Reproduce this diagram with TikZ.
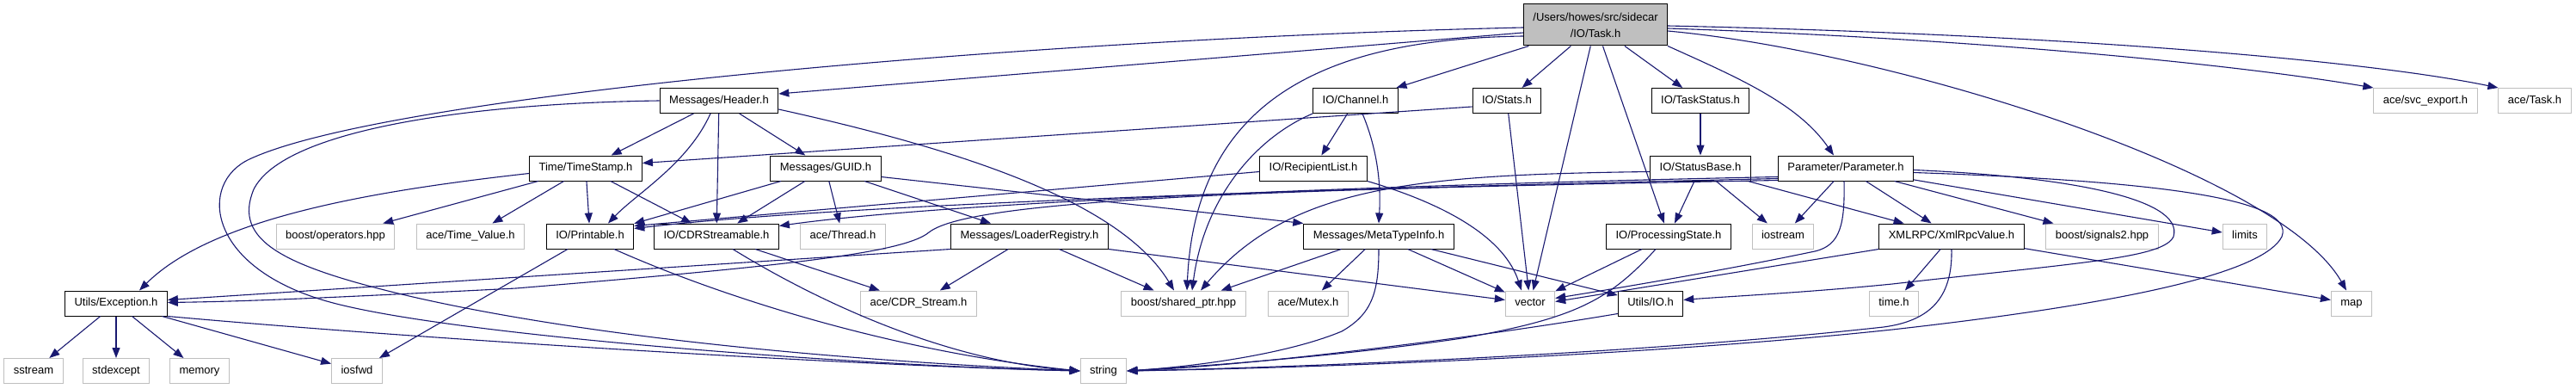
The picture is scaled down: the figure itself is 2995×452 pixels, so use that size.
\documentclass[tikz,border=0pt]{standalone}
\usepackage{fontspec}
\setmainfont{Liberation Sans}
\usepackage{tikz}
\usetikzlibrary{arrows.meta}
\definecolor{edgeblue}{HTML}{191970}
\definecolor{extgray}{HTML}{BFBFBF}

\begin{document}
\begin{tikzpicture}[x=1pt,y=-1pt,
    base/.style={line width=1pt,inner xsep=11pt,inner ysep=2pt,minimum height=29pt,text height=9.4pt,text depth=2.7pt,font=\fontsize{13pt}{19pt}\selectfont},
    inc/.style={base,draw=black},
    ext/.style={base,draw=extgray},
    root/.style={draw=black,fill=extgray,line width=1pt,inner xsep=11pt,minimum height=48pt,align=center,font=\fontsize{13pt}{19pt}\selectfont},
    dep/.style={draw=edgeblue,line width=1.1pt,-{Triangle[length=12pt,width=9pt]}}]
  \path[fill=white] (0,0) rectangle (2995,452);
  \node[root] (task) at (1855,29) {/Users/howes/src/sidecar\\/IO/Task.h};
  \node[inc] (header) at (836,117) {Messages/Header.h};
  \node[inc] (channel) at (1576,117) {IO/Channel.h};
  \node[inc] (stats) at (1752,117) {IO/Stats.h};
  \node[inc] (taskstatus) at (1977,117) {IO/TaskStatus.h};
  \node[ext] (svcexport) at (2820,117) {ace/svc\_export.h};
  \node[ext] (acetask) at (2947,117) {ace/Task.h};
  \node[inc] (timestamp) at (681,195.5) {Time/TimeStamp.h};
  \node[inc] (guid) at (960,195.5) {Messages/GUID.h};
  \node[inc] (recipients) at (1527,195.5) {IO/RecipientList.h};
  \node[inc] (statusbase) at (1977,195.5) {IO/StatusBase.h};
  \node[inc] (parameter) at (2146,195.5) {Parameter/Parameter.h};
  \node[ext] (operators) at (390,274.5) {boost/operators.hpp};
  \node[ext] (timevalue) at (547,274.5) {ace/Time\_Value.h};
  \node[inc] (printable) at (686,274.5) {IO/Printable.h};
  \node[inc] (cdrstream) at (833,274.5) {IO/CDRStreamable.h};
  \node[ext] (thread) at (980,274.5) {ace/Thread.h};
  \node[inc] (loader) at (1197,274.5) {Messages/LoaderRegistry.h};
  \node[inc] (metatype) at (1603,274.5) {Messages/MetaTypeInfo.h};
  \node[inc] (procstate) at (1940,274.5) {IO/ProcessingState.h};
  \node[ext] (iostream) at (2073,274.5) {iostream};
  \node[inc] (xmlrpc) at (2269,274.5) {XMLRPC/XmlRpcValue.h};
  \node[ext] (signals) at (2444,274.5) {boost/signals2.hpp};
  \node[ext] (limits) at (2610,274.5) {limits};
  \node[inc] (exception) at (135,352.5) {Utils/Exception.h};
  \node[ext] (cdr) at (1068,352.5) {ace/CDR\_Stream.h};
  \node[ext] (sharedptr) at (1376,352.5) {boost/shared\_ptr.hpp};
  \node[ext] (mutex) at (1521,352.5) {ace/Mutex.h};
  \node[ext] (vector) at (1779,352.5) {vector};
  \node[inc] (utilsio) at (1919,352.5) {Utils/IO.h};
  \node[ext] (timeh) at (2202,352.5) {time.h};
  \node[ext] (map) at (2734,352.5) {map};
  \node[ext] (sstream) at (39,431) {sstream};
  \node[ext] (stdexcept) at (135,431) {stdexcept};
  \node[ext] (memory) at (232,431) {memory};
  \node[ext] (iosfwd) at (415,431) {iosfwd};
  \node[ext] (string) at (1283,431) {string};

  \draw[dep] ([shift={(0,9)}]task.west) -- ([shift={(0,-8)}]header.east);
  \draw[dep] ([shift={(0,3)}]task.west) .. controls (1200,45) and (450,110) .. (290,185) .. controls (230,213) and (240,310) .. (380,350) .. controls (520,390) and (1000,425) .. (string.west);
  \draw[dep] ([shift={(0,13)}]task.west) .. controls (1550,45) and (1390,110) .. ([shift={(4,0)}]sharedptr.north);
  \draw[dep] (task) -- (channel);
  \draw[dep] (task) -- (stats);
  \draw[dep] (task) -- (vector);
  \draw[dep] (task) -- (procstate);
  \draw[dep] (task) -- (taskstatus);
  \draw[dep] (task.south east) .. controls (2020,90) and (2090,120) .. ([shift={(-14,0)}]parameter.north);
  \draw[dep] ([shift={(0,7)}]task.east) .. controls (2200,60) and (2650,200) .. ([shift={(-6,0)}]map.north);
  \draw[dep] ([shift={(0,4)}]task.east) .. controls (2300,45) and (2600,75) .. (svcexport.north west);
  \draw[dep] ([shift={(0,1)}]task.east) .. controls (2400,40) and (2750,70) .. (acetask.north west);

  \draw[dep] (header.west) .. controls (550,120) and (330,150) .. (295,220) .. controls (270,280) and (330,310) .. (480,345) .. controls (700,395) and (1000,420) .. (string.west);
  \draw[dep] (header) -- (timestamp);
  \draw[dep] ([shift={(-10,0)}]header.south) .. controls (800,190) and (740,225) .. ([shift={(21,0)}]printable.north);
  \draw[dep] (header) -- (cdrstream);
  \draw[dep] (header) -- (guid);
  \draw[dep] ([shift={(0,10)}]header.east) .. controls (1100,170) and (1300,230) .. ([shift={(-11,0)}]sharedptr.north);

  \draw[dep] ([shift={(0,6)}]timestamp.west) .. controls (450,220) and (250,250) .. ([shift={(27,0)}]exception.north);
  \draw[dep] (timestamp) -- (operators);
  \draw[dep] (timestamp) -- (timevalue);
  \draw[dep] (timestamp) -- (printable);
  \draw[dep] (timestamp) -- (cdrstream);

  \draw[dep] ([shift={(0,7)}]stats.west) -- ([shift={(0,-6)}]timestamp.east);
  \draw[dep] (stats) -- (vector);
  \draw[dep] (taskstatus) -- (statusbase);

  \draw[dep] (guid) -- (printable);
  \draw[dep] (guid) -- (cdrstream);
  \draw[dep] (guid) -- (thread);
  \draw[dep] (guid) -- (loader);
  \draw[dep] ([shift={(0,10)}]guid.east) -- (metatype.north west);

  \draw[dep] (printable) -- (iosfwd);
  \draw[dep] ([shift={(28,0)}]printable.south) .. controls (850,350) and (1050,410) .. (string.west);
  \draw[dep] (cdrstream) -- (cdr);
  \draw[dep] ([shift={(19,0)}]cdrstream.south) .. controls (950,350) and (1100,420) .. (string.west);

  \draw[dep] (loader.south west) -- ([shift={(0,-4)}]exception.east);
  \draw[dep] (loader) -- (cdr);
  \draw[dep] (loader) -- (sharedptr);
  \draw[dep] (loader.south east) -- ([shift={(0,-4)}]vector.west);

  \draw[dep] (channel) -- (recipients);
  \draw[dep] ([shift={(8,0)}]channel.south) .. controls (1600,170) and (1606,210) .. (metatype.north);
  \draw[dep] (channel.south west) .. controls (1460,160) and (1400,230) .. ([shift={(10,0)}]sharedptr.north);
  \draw[dep] ([shift={(0,4)}]recipients.west) -- ([shift={(0,-12)}]printable.east);
  \draw[dep] (recipients.south east) .. controls (1690,240) and (1750,280) .. ([shift={(-10,0)}]vector.north);

  \draw[dep] (metatype) -- (sharedptr);
  \draw[dep] (metatype) -- (mutex);
  \draw[dep] (metatype.south) .. controls (1603,340) and (1595,365) .. (1560,385) .. controls (1500,410) and (1400,425) .. (string.east);
  \draw[dep] (metatype) -- (vector);
  \draw[dep] (metatype) -- (utilsio);

  \draw[dep] (procstate) -- (vector);
  \draw[dep] ([shift={(-15,0)}]procstate.south) .. controls (1870,350) and (1830,370) .. (1700,393) .. controls (1550,415) and (1400,425) .. (string.east);
  \draw[dep] ([shift={(0,12)}]utilsio.west) .. controls (1700,395) and (1450,425) .. (string.east);

  \draw[dep] (statusbase) -- (procstate);
  \draw[dep] (statusbase) -- (iostream);
  \draw[dep] (statusbase) -- (xmlrpc);
  \draw[dep] ([shift={(0,4)}]statusbase.west) .. controls (1650,203) and (1500,215) .. ([shift={(20,0)}]sharedptr.north);

  \draw[dep] (parameter) -- (iostream);
  \draw[dep] (parameter) -- (xmlrpc);
  \draw[dep] (parameter) -- (signals);
  \draw[dep] (parameter) -- (limits);
  \draw[dep] ([shift={(-2,0)}]parameter.south) .. controls (2145,260) and (2140,285) .. (2110,292) .. controls (2000,315) and (1880,335) .. ([shift={(0,-6)}]vector.east);
  \draw[dep] ([shift={(0,12)}]parameter.west) .. controls (1600,218) and (1000,235) .. ([shift={(0,-9)}]printable.east);
  \draw[dep] ([shift={(0,10)}]parameter.west) .. controls (1600,215) and (1100,235) .. ([shift={(0,-12)}]cdrstream.east);
  \draw[dep] ([shift={(0,14)}]parameter.west) .. controls (1500,220) and (1130,230) .. (1080,270) .. controls (1050,295) and (900,310) .. (600,335) .. controls (400,345) and (300,350) .. ([shift={(0,-1)}]exception.east);
  \draw[dep] ([shift={(0,2)}]parameter.east) .. controls (2400,205) and (2540,230) .. (2527,275) .. controls (2515,300) and (2420,305) .. (2200,330) .. controls (2100,340) and (2000,345) .. ([shift={(0,-4)}]utilsio.east);
  \draw[dep] ([shift={(0,5)}]parameter.east) .. controls (2500,210) and (2670,230) .. (2653,275) .. controls (2630,320) and (2450,355) .. (2200,383) .. controls (1900,415) and (1500,428) .. (string.east);

  \draw[dep] (xmlrpc.south) .. controls (2270,340) and (2250,372) .. (2190,380) .. controls (1900,412) and (1500,427) .. (string.east);
  \draw[dep] (xmlrpc.south west) -- ([shift={(0,-2)}]vector.east);
  \draw[dep] (xmlrpc) -- (timeh);
  \draw[dep] (xmlrpc) -- (map);

  \draw[dep] (exception) -- (sstream);
  \draw[dep] (exception) -- (stdexcept);
  \draw[dep] (exception) -- (memory);
  \draw[dep] (exception) -- (iosfwd);
  \draw[dep] (exception.south east) .. controls (500,395) and (1000,425) .. (string.west);
\end{tikzpicture}
\end{document}
